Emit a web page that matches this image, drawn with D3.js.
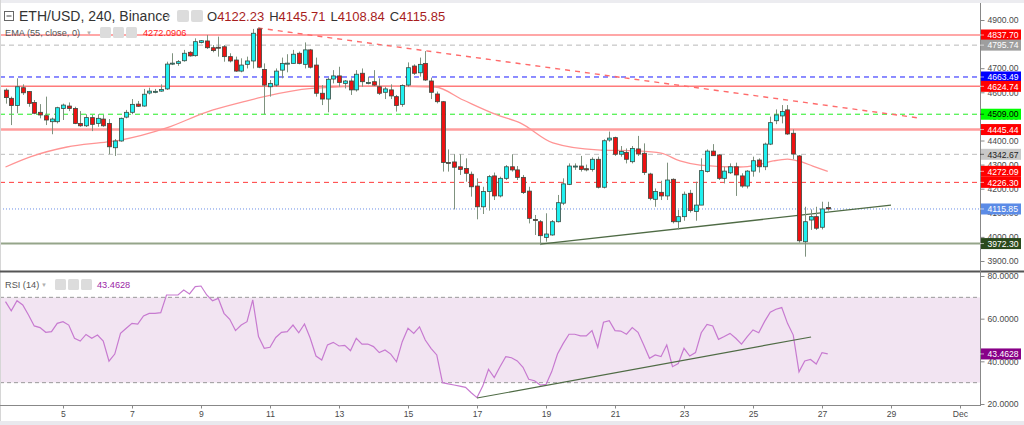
<!DOCTYPE html>
<html><head><meta charset="utf-8">
<script src="https://cdnjs.cloudflare.com/ajax/libs/d3/7.8.5/d3.min.js"></script>
<style>
html,body{margin:0;padding:0;background:#fff;}
svg{display:block;font-family:"Liberation Sans",Arial,sans-serif;}
</style></head><body>
<svg id="c" width="1024" height="425"></svg>
<script>
// ---------- DATA ----------
const startTime = Date.UTC(2021, 10, 3, 8); // first 4h candle
const candleHours = 4;
const openV = [4609,4575,4545,4619,4603,4558,4517,4503,4478,4478,
4533,4543,4533,4471,4461,4495,4471,4489,4471,4370,
4398,4497,4517,4551,4543,4597,4603,4605,4614,4719,
4720,4731,4766,4752,4807,4813,4785,4787,4789,4748,
4734,4688,4716,4730,4863,4695,4623,4630,4692,4720,
4720,4762,4716,4776,4713,4596,4572,4655,4668,4637,
4647,4610,4679,4641,4644,4623,4600,4610,4582,4550,
4630,4709,4681,4720,4647,4593,4561,4309,4311,4291,
4284,4260,4211,4125,4188,4253,4170,4243,4291,4278,
4247,4190,4072,4063,3998,4008,4063,4140,4218,4294,
4294,4283,4280,4322,4206,4402,4412,4343,4350,4312,
4365,4347,4261,4156,4185,4170,4239,4063,4084,4181,
4105,4132,4271,4356,4340,4243,4266,4291,4253,4211,
4273,4319,4291,4385,4482,4502,4527,4430,4336,3980,
4070,4084,4040,4122.23];
const highV = [4616,4582,4658,4633,4605,4568,4551,4582,4495,4540,
4553,4558,4540,4522,4509,4506,4509,4506,4489,4406,
4495,4527,4572,4564,4614,4619,4614,4633,4727,4762,
4734,4776,4771,4824,4817,4838,4796,4831,4796,4762,
4748,4741,4748,4863,4868,4720,4651,4699,4744,4758,
4776,4769,4807,4780,4744,4630,4661,4692,4706,4651,
4658,4692,4699,4665,4692,4658,4623,4633,4589,4633,
4724,4716,4744,4771,4661,4603,4564,4363,4343,4343,
4326,4271,4243,4208,4257,4267,4250,4298,4343,4294,
4257,4208,4091,4070,4098,4070,4174,4243,4305,4305,
4336,4300,4330,4333,4405,4437,4416,4377,4367,4377,
4419,4388,4266,4201,4233,4308,4243,4112,4188,4195,
4229,4326,4363,4385,4344,4291,4305,4308,4264,4277,
4333,4326,4391,4499,4529,4547,4547,4446,4340,4125,
4114,4125,4146,4145.71];
const lowV = [4553,4464,4513,4589,4540,4509,4492,4464,4426,4471,
4485,4522,4468,4457,4456,4439,4457,4457,4343,4336,
4395,4492,4509,4539,4540,4591,4596,4602,4610,4713,
4710,4727,4748,4748,4803,4780,4766,4748,4727,4724,
4685,4683,4699,4699,4700,4509,4582,4623,4658,4683,
4720,4716,4699,4699,4582,4547,4517,4637,4623,4616,
4589,4603,4623,4633,4626,4589,4572,4572,4520,4540,
4623,4672,4665,4647,4572,4554,4271,4271,4114,4257,
4229,4167,4073,4095,4109,4153,4164,4236,4271,4236,
4178,4056,4008,3966,3980,4005,4060,4132,4215,4278,
4271,4272,4271,4201,4201,4395,4336,4333,4305,4305,
4336,4257,4152,4125,4153,4153,4056,4031,4067,4101,
4067,4132,4267,4336,4236,4222,4261,4170,4204,4201,
4250,4267,4277,4381,4468,4471,4423,4322,3976,3918,
4029,4029,4031,4108.84];
const closeV = [4578,4545,4623,4598,4554,4513,4506,4485,4489,4536,
4547,4533,4471,4461,4495,4467,4492,4461,4374,4398,
4492,4517,4550,4542,4592,4605,4604,4612,4717,4721,
4727,4762,4751,4810,4814,4785,4773,4786,4748,4730,
4688,4713,4730,4845,4704,4630,4637,4688,4720,4721,
4758,4720,4776,4704,4596,4572,4654,4668,4641,4647,
4610,4675,4644,4641,4630,4596,4614,4585,4545,4628,
4702,4679,4716,4651,4600,4561,4309,4306,4289,4280,
4264,4208,4125,4188,4250,4170,4243,4291,4278,4247,
4184,4077,4068,4005,4012,4063,4142,4220,4294,4294,
4280,4278,4322,4206,4399,4410,4343,4354,4322,4367,
4344,4267,4160,4188,4170,4236,4063,4084,4177,4109,
4132,4275,4356,4337,4243,4273,4291,4257,4211,4273,
4316,4291,4385,4474,4506,4520,4427,4344,3984,4063,
4084,4036,4116,4115.85];
// EMA(55): [candle index, value]
const emaIdx = [0,4.3,10.7,17.7,20,28,35,41.3,44.6,53.3,64.3,74.7,79.6,85.5,89.5,95.2,102.9,109.8,114,117.3,120.8,127.7,130.7,133.5,136,137.9,140.4,143];
const emaVal = [4290,4332,4373,4394,4402,4452,4518,4560,4580,4616,4626,4622,4568,4506,4473,4390,4361,4357,4348,4315,4298,4290,4298,4315,4323,4315,4294,4272.09];
const emaLegend = 4272.0906;
const rsiV = [68.0,63.7,68.4,66.4,61.7,56.6,55.8,53.6,53.9,57.8,
58.6,57.0,50.8,49.5,52.6,50.8,52.3,49.5,40.1,43.4,
53.1,55.5,57.8,57.5,61.3,62.5,62.5,62.8,71.1,71.1,
71.1,73.4,71.6,75.0,75.3,71.1,68.4,69.5,62.5,59.7,
54.4,57.0,58.6,68.8,51.6,46.1,46.6,51.2,53.6,53.9,
57.0,53.4,57.5,50.8,42.5,40.6,47.7,48.9,47.2,47.5,
45.0,50.8,48.1,48.1,46.9,44.1,45.3,43.4,39.8,49.2,
55.5,53.1,56.2,50.0,46.1,43.0,30.0,29.4,28.9,28.4,
27.8,25.3,23.0,28.4,36.3,32.4,37.5,42.2,41.7,40.2,
37.2,31.6,30.9,28.9,29.2,35.2,43.4,48.4,52.7,52.7,
51.9,51.9,54.4,46.6,58.3,59.1,54.4,54.2,52.7,55.8,
53.6,47.7,41.4,43.0,42.2,47.7,37.5,39.0,46.1,42.5,
44.1,53.4,57.3,56.6,50.3,51.6,53.1,50.8,48.1,51.6,
54.7,53.4,58.6,63.0,64.4,65.2,57.8,52.3,35.1,40.2,
40.9,38.75,44.1,43.4628];
const levelValues = [4837.70, 4795.74, 4663.49, 4624.74, 4509.00, 4445.44, 4342.67, 4226.30, 4115.85, 3972.30];
const resistIdx = [43.9, 159], resistVal = [4867, 4493];
const supportIdx = [93, 154], supportVal = [3970, 4132];
const rsiTrendIdx = [82, 140.1], rsiTrendVal = [22.8, 51.4];
const priceTicks = [3900,4000,4100,4200,4300,4400,4500,4600,4700,4800,4900];
const rsiTicks = [20,40,60,80];
const rsiBand = [30, 70];
const dateTicks = ["2021-11-05","2021-11-07","2021-11-09","2021-11-11","2021-11-13","2021-11-15","2021-11-17","2021-11-19","2021-11-21","2021-11-23","2021-11-25","2021-11-27","2021-11-29","2021-12-01"];
const dateTickLabels = ["5","7","9","11","13","15","17","19","21","23","25","27","29","Dec"];
const title = "ETH/USD, 240, Binance";
const emaTitle = "EMA (55, close, 0)";
const rsiTitle = "RSI (14)";

// ---------- STYLES (separate from data) ----------
const levelStyles = [
  {stroke:"#ff8a8a", w:1.5, dash:null, bg:"#ff0000", fg:"#fff"},
  {stroke:"#b8b8b8", w:1, dash:"5,4", bg:"#9e9e9e", fg:"#fff"},
  {stroke:"#1a1aff", w:1, dash:"5,4", bg:"#0000ff", fg:"#fff"},
  {stroke:"#ff7a7a", w:1.5, dash:null, bg:"#ff0000", fg:"#fff"},
  {stroke:"#22ee22", w:1, dash:"5,4", bg:"#00ff00", fg:"#000"},
  {stroke:"#ff9c9c", w:2.5, dash:null, bg:"#ff0000", fg:"#fff"},
  {stroke:"#bdbdbd", w:1, dash:"5,4", bg:"#c8c8c8", fg:"#222"},
  {stroke:"#ff3b3b", w:1, dash:"5,4", bg:"#ff0000", fg:"#fff"},
  {stroke:"#6b8fe6", w:1, dash:"1,2", bg:"#5b8be6", fg:"#fff"},
  {stroke:"#95a58a", w:2, dash:null, bg:"#2b4a1d", fg:"#fff"}
];
const axisFont = 8.6;

// ---------- SCALES ----------
const svg = d3.select("#c");
const plotRight = 980;
const t = i => new Date(startTime + i*candleHours*3600e3);
const n = closeV.length;
const xT = d3.scaleUtc().domain([t(0), t(n-1)]).range([5.5, 827.75]);
const xi = i => xT(t(i));
const yP = d3.scaleLinear().domain([3900, 4900]).range([261, 20]);
const yR = d3.scaleLinear().domain([20, 80]).range([404, 276]);

// frame
svg.append("rect").attr("x",0).attr("y",0).attr("width",1024).attr("height",3).attr("fill","#ececf0");
svg.append("rect").attr("x",0).attr("y",421).attr("width",1024).attr("height",4).attr("fill","#e9e9ee");
svg.append("line").attr("x1",0.5).attr("x2",0.5).attr("y1",0).attr("y2",421).attr("stroke","#d6d6d6");

const defs = svg.append("defs");
defs.append("clipPath").attr("id","cp").append("rect").attr("x",1).attr("y",3).attr("width",plotRight-1).attr("height",267);
defs.append("clipPath").attr("id","cr").append("rect").attr("x",1).attr("y",273).attr("width",plotRight-1).attr("height",132);

// ---------- PRICE PANE ----------
const gp = svg.append("g").attr("clip-path","url(#cp)");
levelValues.forEach((v,k) => {
  const s = levelStyles[k];
  gp.append("line").attr("x1",0).attr("x2",plotRight).attr("y1",yP(v)).attr("y2",yP(v))
    .attr("stroke",s.stroke).attr("stroke-width",s.w).attr("stroke-dasharray",s.dash);
});
gp.append("path").datum(emaIdx.map((d,k)=>[d,emaVal[k]]))
  .attr("d", d3.line().x(d=>xi(d[0])).y(d=>yP(d[1])).curve(d3.curveMonotoneX))
  .attr("fill","none").attr("stroke","#ff9494").attr("stroke-width",1.3);
gp.append("line").attr("x1",xi(resistIdx[0])).attr("y1",yP(resistVal[0])).attr("x2",xi(resistIdx[1])).attr("y2",yP(resistVal[1]))
  .attr("stroke","#ff6b6b").attr("stroke-width",1.4).attr("stroke-dasharray","5,5");
gp.append("line").attr("x1",xi(supportIdx[0])).attr("y1",yP(supportVal[0])).attr("x2",xi(supportIdx[1])).attr("y2",yP(supportVal[1]))
  .attr("stroke","#4f6b45").attr("stroke-width",1.3);
const cg = gp.selectAll("g.c").data(d3.range(n)).join("g");
cg.append("line").attr("x1",i=>Math.round(xi(i))+0.5).attr("x2",i=>Math.round(xi(i))+0.5)
  .attr("y1",i=>yP(highV[i])).attr("y2",i=>yP(lowV[i])).attr("stroke","#7f927f").attr("stroke-width",1);
cg.append("rect").attr("x",i=>Math.round(xi(i))-1.5).attr("width",4)
  .attr("y",i=>yP(Math.max(openV[i],closeV[i])))
  .attr("height",i=>Math.max(1, Math.abs(yP(openV[i])-yP(closeV[i]))))
  .attr("fill",i=>closeV[i]>=openV[i]?"#1ff0f0":"#ee1111")
  .attr("stroke","#3a4a40").attr("stroke-width",0.8);

// ---------- RSI PANE ----------
const gr = svg.append("g").attr("clip-path","url(#cr)");
gr.append("rect").attr("x",0).attr("width",plotRight).attr("y",yR(rsiBand[1])).attr("height",yR(rsiBand[0])-yR(rsiBand[1])).attr("fill","#f2e4f2");
rsiBand.forEach(v=>gr.append("line").attr("x1",0).attr("x2",plotRight).attr("y1",yR(v)).attr("y2",yR(v))
  .attr("stroke","#999").attr("stroke-dasharray","4,3"));
gr.append("path").datum(rsiV).attr("d", d3.line().x((d,i)=>xi(i)).y(d=>yR(d)))
  .attr("fill","none").attr("stroke","#c77ad0").attr("stroke-width",1.2);
gr.append("line").attr("x1",xi(rsiTrendIdx[0])).attr("y1",yR(rsiTrendVal[0])).attr("x2",xi(rsiTrendIdx[1])).attr("y2",yR(rsiTrendVal[1]))
  .attr("stroke","#4f6b45").attr("stroke-width",1.2);

// separators
svg.append("line").attr("x1",0).attr("x2",1024).attr("y1",271.5).attr("y2",271.5).attr("stroke","#555").attr("stroke-width",2);
svg.append("line").attr("x1",0).attr("x2",plotRight).attr("y1",405.5).attr("y2",405.5).attr("stroke","#888");
svg.append("line").attr("x1",plotRight+0.5).attr("x2",plotRight+0.5).attr("y1",3).attr("y2",406).attr("stroke","#888");

// ---------- AXES ----------
const ap = svg.append("g").attr("transform",`translate(${plotRight+0.5},0)`)
  .call(d3.axisRight(yP).tickValues(priceTicks).tickFormat(d3.format(".2f")).tickSize(4).tickPadding(3));
const ar = svg.append("g").attr("transform",`translate(${plotRight+0.5},0)`)
  .call(d3.axisRight(yR).tickValues(rsiTicks).tickFormat(d3.format(".4f")).tickSize(4).tickPadding(3));
const ax = svg.append("g").attr("transform","translate(0,405.5)")
  .call(d3.axisBottom(xT).tickValues(dateTicks.map(d=>new Date(d+"T00:00:00Z"))).tickFormat((d,k)=>dateTickLabels[k]).tickSize(3).tickPadding(2));
[ap,ar,ax].forEach(a=>{
  a.select(".domain").remove();
  a.selectAll("text").attr("fill","#4a4a4a").attr("font-size",axisFont).attr("font-family","Liberation Sans, Arial, sans-serif");
  a.selectAll("line").attr("stroke","#888");
});

// price labels
function tag(v, y, bg, fg, dec){
  const g = svg.append("g");
  g.append("rect").attr("x",plotRight+1).attr("y",y-5.5).attr("width",40).attr("height",11).attr("fill",bg);
  g.append("line").attr("x1",plotRight).attr("x2",plotRight+4).attr("y1",y).attr("y2",y).attr("stroke",fg).attr("opacity",0.6);
  g.append("text").attr("x",plotRight+7.5).attr("y",y+3.2).attr("font-size",axisFont).attr("fill",fg).text(d3.format(dec)(v));
}
levelValues.forEach((v,k)=>{ if(k!==8) tag(v, yP(v), levelStyles[k].bg, levelStyles[k].fg, ".2f"); });
tag(emaVal[emaVal.length-1], yP(emaVal[emaVal.length-1]), "#ff0000", "#fff", ".2f");
tag(levelValues[8], yP(levelValues[8]), levelStyles[8].bg, levelStyles[8].fg, ".2f");
tag(rsiV[n-1], yR(rsiV[n-1]), "#880088", "#fff", ".4f");

// ---------- LEGENDS ----------
const lg = svg.append("g");
lg.append("rect").attr("x",4.5).attr("y",11.5).attr("width",9).attr("height",9).attr("fill","none").attr("stroke","#666");
lg.append("line").attr("x1",6.5).attr("x2",11.5).attr("y1",16).attr("y2",16).attr("stroke","#444");
lg.append("text").attr("x",19).attr("y",21).attr("font-size",14).attr("fill","#333").text(title);
lg.append("text").attr("x",165).attr("y",19).attr("font-size",6.5).attr("fill","#b0b0b0").text("▼");
[177,191].forEach(x=>lg.append("rect").attr("x",x).attr("y",10).attr("width",12).attr("height",12).attr("rx",2).attr("fill","#dcdcdc"));
const ohlc = lg.append("text").attr("x",207).attr("y",21).attr("font-size",13);
[["O",openV],["H",highV],["L",lowV],["C",closeV]].forEach(([k,arr],j)=>{
  ohlc.append("tspan").attr("fill","#333").attr("dx", j?5:0).text(k);
  ohlc.append("tspan").attr("fill","#a81d1d").text(d3.format(".2f")(arr[n-1]));
});
lg.append("text").attr("x",5).attr("y",36).attr("font-size",9.2).attr("fill","#555").text(emaTitle);
lg.append("text").attr("x",86).attr("y",35).attr("font-size",6).attr("fill","#b0b0b0").text("▼");
[100,113,126].forEach(x=>lg.append("rect").attr("x",x).attr("y",27).attr("width",11).attr("height",11).attr("rx",1.5).attr("fill","#dcdcdc"));
lg.append("text").attr("x",143).attr("y",36).attr("font-size",9.2).attr("fill","#ff1a1a").text(d3.format(".4f")(emaLegend));
lg.append("text").attr("x",5).attr("y",288).attr("font-size",9.2).attr("fill","#555").text(rsiTitle);
lg.append("text").attr("x",41).attr("y",287).attr("font-size",6).attr("fill","#b0b0b0").text("▼");
[55,68,81].forEach(x=>lg.append("rect").attr("x",x).attr("y",279).attr("width",11).attr("height",11).attr("rx",1.5).attr("fill","#dcdcdc"));
lg.append("text").attr("x",97).attr("y",288).attr("font-size",9.2).attr("fill","#9b1fa6").text(d3.format(".4f")(rsiV[n-1]));
</script>
</body></html>
